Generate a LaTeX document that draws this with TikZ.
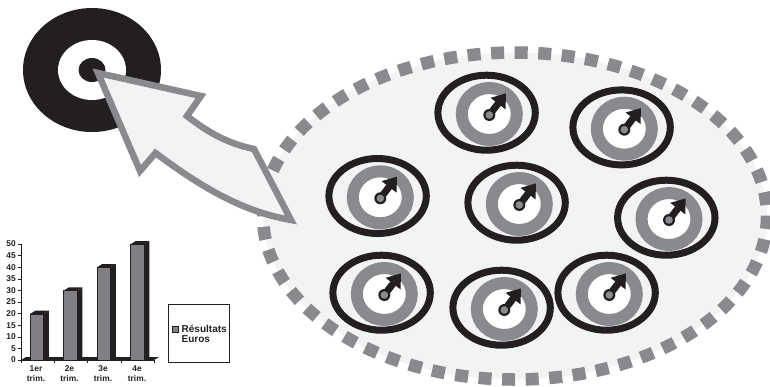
\documentclass[tikz,border=0pt]{standalone}
\usepackage{fontspec}
\setmainfont{Liberation Sans}
\definecolor{ink}{HTML}{231F20}
\definecolor{midgray}{HTML}{898A8D}
\definecolor{pale}{HTML}{F2F4F3}
\definecolor{bargray}{HTML}{808084}
\tikzset{
  disk/.style={fill=ink,draw=none},
  tick/.style={line width=.6pt,draw=ink},
  axlabel/.style={font=\bfseries\fontsize{8.4}{10.4}\selectfont,text=ink,inner sep=0pt,align=center},
  bigarrow/.style={draw=midgray,fill=pale,line width=6.5pt,miter limit=10},
  eyearrow/.style={draw=ink,line width=7pt,-{Triangle[length=13pt,width=18pt]}},
}
\usetikzlibrary{arrows.meta}
\newcommand{\eye}[3]{%
  \begin{scope}[shift={(#1,#2)}]
    \draw[ink,line width=7pt] (-2.7,-2.3) ellipse [x radius=48.7,y radius=37.5];
    \draw[midgray,line width=12pt,fill=white] (0,-1) ellipse [x radius=27.5,y radius=26];
    \coordinate (p#3) at (0,0);
    \coordinate (t#3) at (16.7,-21.7);
    \draw[eyearrow] (p#3) -- (t#3);
    \fill[ink] (p#3) circle [radius=6];
    \fill[midgray] (p#3) circle [radius=3.8];
  \end{scope}}
\newcommand{\chartbar}[3]{%
  \fill[ink] (#2,#3) -- (#2+5.3,#3-3.3) -- (#2+5.3,357) -- (#2,360) -- cycle;
  \fill[ink] (#1,#3) -- (#1+5.3,#3-3.3) -- (#2+5.3,#3-3.3) -- (#2,#3) -- cycle;
  \fill[bargray] (#1,#3) rectangle (#2,360);
  \draw[ink,line width=.5pt] (#1,#3) rectangle (#2,360);}
\begin{document}
\begin{tikzpicture}[x=1pt,y=-1pt,line join=miter]
\useasboundingbox (0,0) rectangle (770,386);
% target disk
\fill[disk] (92,70) ellipse [x radius=69,y radius=62];
\fill[white] (92,70) ellipse [x radius=34,y radius=30];
\fill[disk] (92,70) ellipse [x radius=13.5,y radius=12];
% big ellipse
\fill[pale] (515,216) ellipse [x radius=252,y radius=163.5];
\draw[midgray,line width=12.5pt,dash pattern=on 13pt off 10.57pt] (515,216) ellipse [x radius=252,y radius=163.5];
% eyes
\eye{489.3}{115}{a}
\eye{624.3}{129.7}{b}
\eye{380.3}{198.3}{c}
\eye{519.3}{205}{d}
\eye{669}{220}{e}
\eye{384.3}{295}{f}
\eye{504.3}{310}{g}
\eye{609.3}{295}{h}
% big arrow
\draw[bigarrow] (98,73) -- (201,96) -- (187,116)
  .. controls (205,130) and (225,143) .. (254,149)
  -- (291,220)
  .. controls (245,212) and (205,190) .. (155.5,153)
  -- (140,171) -- cycle;
% chart floor
\fill[ink] (21,360) -- (26,357) -- (159,357) -- (154,360) -- cycle;
\chartbar{30}{43.5}{314}
\chartbar{63.5}{77}{290.7}
\chartbar{97}{110.5}{267.3}
\chartbar{130.5}{144}{244.3}
% axes
\draw[tick] (21,244) -- (21,360) -- (154,360);
\foreach \v [count=\i from 0] in {0,5,...,50}{
  \coordinate (yt\i) at (21,360-2.32*\v);
  \draw[tick] (yt\i) -- ++(-3.5,0);
  \node[axlabel,anchor=east] (yl\i) at (16,360-2.32*\v) {\v};
}
\foreach \x in {21,54,87,121,154}{ \draw[tick] (\x,360) -- ++(0,2.5); }
\node[axlabel] (q1) at (36,373.5) {1er\\trim.};
\node[axlabel] (q2) at (69.5,373.5) {2e\\trim.};
\node[axlabel] (q3) at (103,373.5) {3e\\trim.};
\node[axlabel] (q4) at (137,373.5) {4e\\trim.};
% legend
\draw[ink,line width=.7pt] (168.3,304.7) rectangle (229.3,362.3);
\draw[ink,line width=.5pt,fill=bargray] (172,326.3) rectangle (178,332.7);
\node[axlabel,anchor=west,font=\bfseries\fontsize{10}{10}\selectfont,align=left] (leg) at (181.5,334) {Résultats\\Euros};
\end{tikzpicture}
\end{document}
